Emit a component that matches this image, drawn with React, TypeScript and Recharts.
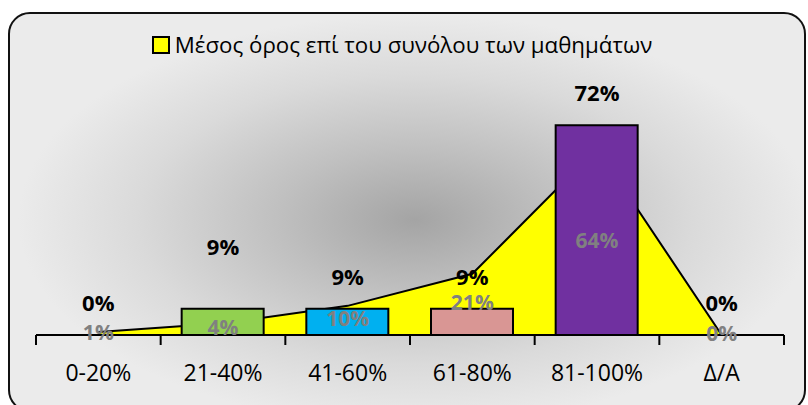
import React from "react";
import { ComposedChart, Area, Bar, Line, XAxis, YAxis, Legend, LabelList, Cell } from "recharts";

const categories = ["0-20%", "21-40%", "41-60%", "61-80%", "81-100%", "Δ/A"];
const barValues = [0, 9, 9, 9, 72, 0];
const avgValues = [1, 4, 10, 21, 64, 0];
const barColors = ["#92D050", "#92D050", "#00B0F0", "#D99694", "#7030A0", "#7030A0"];
const legendLabel = "Μέσος όρος επί του συνόλου των μαθημάτων";

const data = categories.map((name, i) => ({ name, bar: barValues[i], avg: avgValues[i] }));

const W = 808;
const H = 405;
const FONT = "'Open Sans', 'Noto Sans', sans-serif";
const MARGIN = { top: 69, right: 24, bottom: 0, left: 36 };
const AXIS_H = 70;
const BASE_Y = H - MARGIN.bottom - AXIS_H;
const BAND = (W - MARGIN.left - MARGIN.right) / categories.length;

const renderBarLabel = (props: any) => {
  const { x, y, value, index } = props;
  const lift = index === 1 ? 63 : 33;
  return (
    <text x={x} y={y - lift} textAnchor="middle" dominantBaseline="central"
      fontFamily={FONT} fontWeight={700} fontSize={22} fill="#000">
      {value}%
    </text>
  );
};

const renderAvgLabel = (props: any) => {
  const { x, y, value } = props;
  return (
    <text x={x} y={(y + BASE_Y) / 2 - 2} textAnchor="middle" dominantBaseline="central"
      fontFamily={FONT} fontWeight={700} fontSize={21} fill="#808080">
      {value}%
    </text>
  );
};

const renderTick = (props: any) => {
  const { x, y, payload, index } = props;
  const left = x - BAND / 2;
  return (
    <g>
      <line x1={left} x2={left} y1={y} y2={y + 10} stroke="#000" strokeWidth={2} />
      {index === categories.length - 1 && (
        <line x1={x + BAND / 2} x2={x + BAND / 2} y1={y} y2={y + 10} stroke="#000" strokeWidth={2} />
      )}
      <text x={x} y={y + 37} textAnchor="middle" dominantBaseline="central" fontFamily={FONT} fontSize={23} fill="#000">
        {payload.value}
      </text>
    </g>
  );
};

const renderLegend = () => (
  <div style={{ position: "relative", left: -8, display: "flex", alignItems: "center", justifyContent: "center", fontFamily: FONT, fontSize: 22.3, color: "#000", lineHeight: "30px" }}>
    <span style={{ display: "inline-block", width: 14, height: 14, background: "#FFFF00", border: "2px solid #000", marginRight: 5 }} />
    <span>{legendLabel}</span>
  </div>
);

export default function App() {
  return (
    <div style={{ position: "absolute", left: 0, top: 0, width: W, height: H, overflow: "hidden", background: "#fff" }}>
      <div style={{
        position: "absolute", left: 8, top: 12, width: 798, height: 400, boxSizing: "border-box",
        border: "2px solid #111", borderRadius: 22,
        background: "radial-gradient(ellipse 50% 52% at 51% 52%, #a4a4a4 0%, #c0c0c0 35%, #dadada 70%, #ebebeb 100%)",
      }} />
      <div style={{ position: "absolute", left: 0, top: 0 }}>
        <ComposedChart width={W} height={H} data={data} margin={MARGIN} barSize={82}>
          <YAxis hide domain={[0, 81]} allowDataOverflow />
          <XAxis dataKey="name" height={AXIS_H} axisLine={{ stroke: "#000", strokeWidth: 2 }} tickLine={false}
            tickSize={0} tickMargin={0} tick={renderTick} interval={0} />
          <Legend verticalAlign="top" content={renderLegend} wrapperStyle={{ top: 30 }} />
          <Area type="linear" dataKey="avg" fill="#FFFF00" fillOpacity={1} stroke="#000" strokeWidth={2}
            isAnimationActive={false} dot={false} activeDot={false} />
          <Bar dataKey="bar" stroke="#000" strokeWidth={2} isAnimationActive={false}>
            {data.map((d, i) => <Cell key={d.name} fill={barColors[i]} />)}
          </Bar>
          <Line type="linear" dataKey="avg" stroke="none" dot={false} activeDot={false} isAnimationActive={false}>
            <LabelList dataKey="avg" content={renderAvgLabel} />
          </Line>
          <Line type="linear" dataKey="bar" stroke="none" dot={false} activeDot={false} isAnimationActive={false}>
            <LabelList dataKey="bar" content={renderBarLabel} />
          </Line>
        </ComposedChart>
      </div>
    </div>
  );
}
